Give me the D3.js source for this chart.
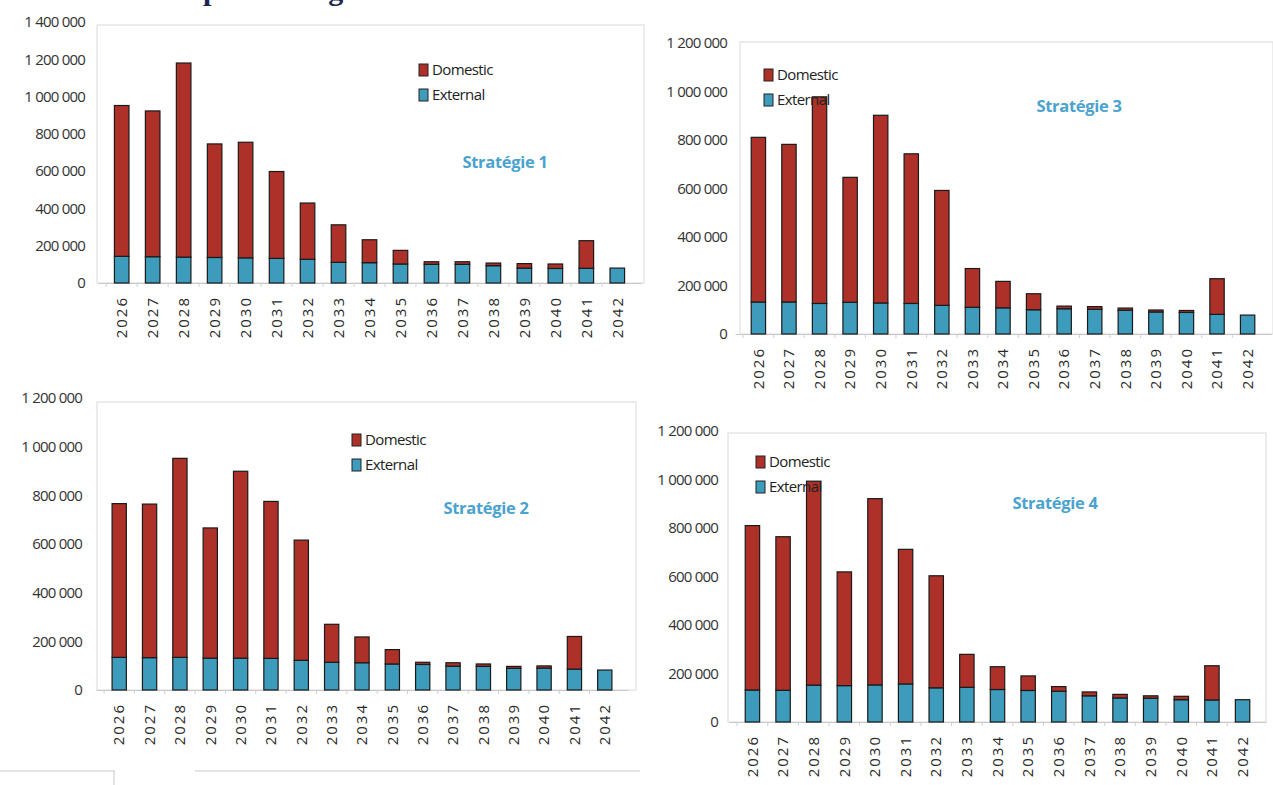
<!DOCTYPE html>
<html>
<head>
<meta charset="utf-8">
<script src="https://cdn.jsdelivr.net/npm/d3@7"></script>
<style>
  body { margin: 0; background: #fff; }
  svg { display: block; }
</style>
</head>
<body>
<div id="chart"></div>
<script>
// categories
var years = ["2026","2027","2028","2029","2030","2031","2032","2033","2034",
             "2035","2036","2037","2038","2039","2040","2041","2042"];

// series values, External and Domestic per strategy
var s1External = [143000,141000,139000,137000,135000,132000,127000,111000,109000,102000,100000,100000,93000,80000,78000,79000,80000];
var s1Domestic = [809000,782000,1041000,609000,620000,466000,302000,201000,123000,73000,14000,14000,14000,24000,24000,148000,0];

var s2External = [134000,133000,134000,131000,131000,130000,122000,114000,112000,107000,105000,98000,97000,89000,90000,86000,82000];
var s2Domestic = [632000,631000,818000,535000,768000,645000,494000,156000,106000,59000,9000,14000,10000,8000,9000,134000,0];

var s3External = [132000,132000,126000,131000,128000,126000,118000,110000,108000,100000,104000,102000,98000,91000,89000,81000,78000];
var s3Domestic = [679000,650000,852000,515000,774000,617000,474000,160000,109000,66000,11000,11000,9000,8000,8000,147000,0];

var s4External = [132000,131000,152000,150000,153000,157000,141000,143000,134000,130000,127000,108000,99000,98000,92000,91000,92000];
var s4Domestic = [678000,633000,841000,469000,768000,555000,462000,136000,94000,60000,19000,16000,15000,10000,14000,141000,0];

var titles = ["Stratégie 1","Stratégie 2","Stratégie 3","Stratégie 4"];
var legendLabels = ["Domestic","External"];
var yTicks1 = [0,200000,400000,600000,800000,1000000,1200000,1400000];
var yTicks = [0,200000,400000,600000,800000,1000000,1200000];

var keys = ["External","Domestic"];
var colors = {Domestic: "#ad3128", External: "#3d9cbb"};

var svg = d3.select("#chart")
    .append("svg")
    .attr("width", 1273)
    .attr("height", 785);

// heading of the page, cut off by the top edge of the scan
svg.append("text")
    .attr("x", 203).attr("y", 0)
    .attr("font-family", "Liberation Serif, serif")
    .attr("font-weight", "bold")
    .attr("font-size", 30)
    .attr("fill", "#1c2652")
    .text("par stratégie");

// page frame lines at the bottom
svg.append("line").attr("x1", 0).attr("x2", 115).attr("y1", 771).attr("y2", 771)
    .attr("stroke", "#c9c9c9");
svg.append("line").attr("x1", 195).attr("x2", 640).attr("y1", 771).attr("y2", 771)
    .attr("stroke", "#c9c9c9");
svg.append("line").attr("x1", 114).attr("x2", 114).attr("y1", 771).attr("y2", 785)
    .attr("stroke", "#c9c9c9");

// layout of the four panels
var panels = [
  {title: titles[0], ext: s1External, dom: s1Domestic, ticks: yTicks1, yMax: 1400000,
   box: [97, 25, 644], y0: 283, yTop: 22, x0: 98, x1: 641, labelX: 85,
   legend: [419, 70], titlePos: [505, 168]},
  {title: titles[1], ext: s2External, dom: s2Domestic, ticks: yTicks, yMax: 1200000,
   box: [97, 402, 636], y0: 690, yTop: 398, x0: 96, x1: 628, labelX: 82,
   legend: [352, 440], titlePos: [486, 514]},
  {title: titles[2], ext: s3External, dom: s3Domestic, ticks: yTicks, yMax: 1200000,
   box: [740, 42, 1273], y0: 334, yTop: 43, x0: 735, x1: 1271, labelX: 727,
   legend: [764, 75], titlePos: [1079, 112]},
  {title: titles[3], ext: s4External, dom: s4Domestic, ticks: yTicks, yMax: 1200000,
   box: [728, 433, 1266], y0: 722, yTop: 431, x0: 729, x1: 1266, labelX: 718,
   legend: [756, 462], titlePos: [1055, 509]}
];

panels.forEach(function(p) {
  var g = svg.append("g");

  var data = years.map(function(yr, i) {
    return {year: yr, External: p.ext[i], Domestic: p.dom[i]};
  });
  var stacked = d3.stack().keys(keys)(data);

  var x = d3.scaleBand()
      .domain(years)
      .range([p.x0, p.x1])
      .padding(0.53);

  var y = d3.scaleLinear()
      .domain([0, p.yMax])
      .range([p.y0, p.yTop]);

  // plot frame
  g.append("rect")
      .attr("x", p.box[0]).attr("y", p.box[1])
      .attr("width", p.box[2] - p.box[0])
      .attr("height", p.y0 - p.box[1])
      .attr("fill", "none")
      .attr("stroke", "#dadada");

  // Y axis labels
  var yAxis = g.append("g")
      .attr("transform", "translate(" + (p.labelX + 3) + ",0)")
      .call(d3.axisLeft(y)
          .tickValues(p.ticks)
          .tickSize(0)
          .tickPadding(3)
          .tickFormat(function(d) { return d3.format(",")(d).replace(/,/g, " "); }));
  yAxis.select(".domain").remove();
  yAxis.selectAll("text")
      .attr("font-family", "Open Sans, sans-serif")
      .attr("font-size", 15)
      .attr("letter-spacing", "-0.8px")
      .attr("fill", "#333");

  // X axis with rotated years
  var xAxis = g.append("g")
      .attr("transform", "translate(0," + p.y0 + ")")
      .call(d3.axisBottom(x).tickSize(0));
  xAxis.select(".domain").attr("stroke", "#c8c8c8");
  xAxis.selectAll("text")
      .attr("transform", "rotate(-90)")
      .attr("x", -13)
      .attr("y", 0)
      .attr("dy", "0.35em")
      .style("text-anchor", "end")
      .attr("font-family", "Open Sans, sans-serif")
      .attr("font-size", 15)
      .attr("letter-spacing", "2px")
      .attr("fill", "#2a2a2a");

  // small separators along the baseline
  g.selectAll(".sep")
      .data(years)
      .enter().append("line")
      .attr("x1", function(d) { return x(d) - x.step() * x.paddingInner() / 2; })
      .attr("x2", function(d) { return x(d) - x.step() * x.paddingInner() / 2; })
      .attr("y1", p.y0)
      .attr("y2", p.y0 + 4)
      .attr("stroke", "#cfcfcf");

  // bars
  g.selectAll(".layer")
      .data(stacked)
      .enter().append("g")
      .attr("fill", function(d) { return colors[d.key]; })
      .selectAll("rect")
      .data(function(d) { return d; })
      .enter().append("rect")
      .attr("x", function(d) { return x(d.data.year); })
      .attr("y", function(d) { return y(d[1]); })
      .attr("width", x.bandwidth())
      .attr("height", function(d) { return y(d[0]) - y(d[1]); })
      .attr("stroke", "#1a1a1a")
      .attr("stroke-width", 1.2);

  // legend
  var leg = g.append("g")
      .attr("transform", "translate(" + p.legend[0] + "," + p.legend[1] + ")");
  legendLabels.forEach(function(name, i) {
    leg.append("rect")
        .attr("x", 0).attr("y", i * 25 - 6)
        .attr("width", 9).attr("height", 12)
        .attr("fill", colors[name])
        .attr("stroke", "#222");
    leg.append("text")
        .attr("x", 13).attr("y", i * 25)
        .attr("dy", "0.35em")
        .attr("font-family", "Open Sans, sans-serif")
        .attr("font-size", 15)
        .attr("letter-spacing", "-0.6px")
        .attr("fill", "#222")
        .text(name);
  });

  // strategy label
  g.append("text")
      .attr("x", p.titlePos[0]).attr("y", p.titlePos[1])
      .attr("text-anchor", "middle")
      .attr("font-family", "Open Sans, sans-serif")
      .attr("font-weight", "bold")
      .attr("font-size", 16.5)
      .attr("letter-spacing", "-0.3px")
      .attr("fill", "#4aa2cf")
      .text(p.title);
});
</script>
</body>
</html>
